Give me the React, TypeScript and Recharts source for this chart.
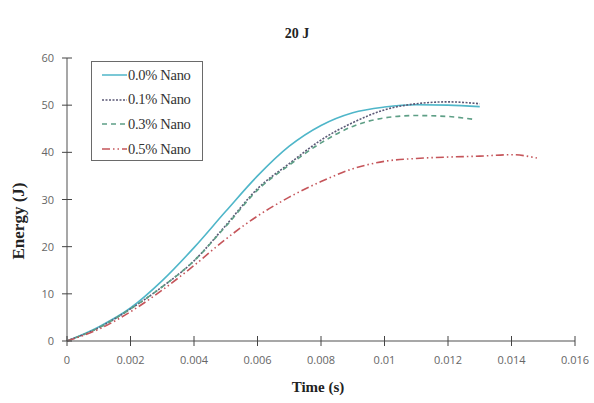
import React from "react";
import { Line, LineChart, XAxis, YAxis } from "recharts";

// energy (J), one array per series
const time00 = [0, 0.001, 0.002, 0.003, 0.004, 0.005, 0.006, 0.007, 0.008, 0.009, 0.01, 0.011, 0.012, 0.013];
const nano00 = [0, 3.0, 7.0, 12.8, 19.8, 27.5, 35.0, 41.3, 45.7, 48.4, 49.6, 50.1, 50.0, 49.7];

const time01 = [0, 0.001, 0.002, 0.003, 0.004, 0.005, 0.006, 0.007, 0.008, 0.009, 0.01, 0.011, 0.012, 0.013];
const nano01 = [0, 2.8, 6.8, 11.5, 17.0, 24.5, 32.3, 37.6, 42.6, 46.3, 49.0, 50.3, 50.7, 50.3];

const time03 = [0, 0.001, 0.002, 0.003, 0.004, 0.005, 0.006, 0.007, 0.008, 0.009, 0.01, 0.011, 0.012, 0.0128];
const nano03 = [0, 2.8, 6.8, 11.5, 17.0, 24.3, 32.0, 37.3, 42.0, 45.5, 47.3, 47.8, 47.6, 47.0];

const time05 = [0, 0.001, 0.002, 0.003, 0.004, 0.005, 0.006, 0.007, 0.008, 0.009, 0.01, 0.011, 0.012, 0.013, 0.014, 0.0148];
const nano05 = [0, 2.5, 6.2, 10.8, 16.0, 21.6, 26.5, 30.5, 33.8, 36.5, 38.1, 38.7, 39.0, 39.2, 39.5, 38.8];

const xTicks = [0, 0.002, 0.004, 0.006, 0.008, 0.01, 0.012, 0.014, 0.016];
const xTickLabels = ["0", "0.002", "0.004", "0.006", "0.008", "0.01", "0.012", "0.014", "0.016"];
const yTicks = [0, 10, 20, 30, 40, 50, 60];

const toRows = (t: number[], e: number[]) => t.map((x, i) => ({ t: x, e: e[i] }));

const series = [
  { name: "0.0% Nano", data: toRows(time00, nano00), color: "#4fb6c9", dash: undefined },
  { name: "0.1% Nano", data: toRows(time01, nano01), color: "#5b5876", dash: "2 1.5" },
  { name: "0.3% Nano", data: toRows(time03, nano03), color: "#5e9f86", dash: "5 4" },
  { name: "0.5% Nano", data: toRows(time05, nano05), color: "#c5555a", dash: "8 3 1.5 3 1.5 3" },
];

const TICK_SIZE = 5;
const TICK_MARGIN = 10;
const axisGray = "#8a8a8a";
const tickFont = "'Open Sans', sans-serif";
const serif = "'Liberation Serif', 'Times New Roman', serif";

const XTick = (props: any) => {
  const { x, y, index } = props;
  const axisY = y - TICK_SIZE - TICK_MARGIN;
  return (
    <g>
      <line x1={x} x2={x} y1={axisY - 5} y2={axisY + 5} stroke="#444" strokeWidth={1} />
      <text x={x} y={axisY + 23} textAnchor="middle" fontSize={11} fill="#666" fontFamily={tickFont}>
        {xTickLabels[index]}
      </text>
    </g>
  );
};

const YTick = (props: any) => {
  const { x, y, payload } = props;
  const axisX = x + TICK_SIZE + TICK_MARGIN;
  return (
    <g>
      <line x1={axisX - 5} x2={axisX + 5} y1={y} y2={y} stroke="#444" strokeWidth={1} />
      <text x={axisX - 13} y={y + 4} textAnchor="end" fontSize={11} fill="#666" fontFamily={tickFont}>
        {payload.value}
      </text>
    </g>
  );
};

const LegendBox = () => (
  <div
    style={{
      position: "absolute",
      left: 91,
      top: 61,
      width: 112,
      height: 100,
      border: "1.5px solid #6a6a6a",
      background: "#fff",
      boxSizing: "border-box",
      paddingTop: 1,
    }}
  >
    {series.map((s) => (
      <div key={s.name} style={{ display: "flex", alignItems: "center", height: 24.6 }}>
        <svg width={27} height={10} style={{ marginLeft: 9 }}>
          <line x1={1} x2={26} y1={5} y2={5} stroke={s.color} strokeWidth={1.5} strokeDasharray={s.dash} />
        </svg>
        <span style={{ fontFamily: serif, fontSize: 14.5, color: "#333", marginLeft: 0, whiteSpace: "nowrap", letterSpacing: -0.3 }}>
          {s.name}
        </span>
      </div>
    ))}
  </div>
);

export default function App() {
  return (
    <div style={{ position: "absolute", left: 0, top: 0, width: 594, height: 403, background: "#fff" }}>
      <LineChart width={594} height={403} margin={{ top: 58, right: 19, bottom: 0, left: 0 }}>
        <XAxis
          type="number"
          dataKey="t"
          domain={[0, 0.016]}
          ticks={xTicks}
          allowDuplicatedCategory={false}
          height={62}
          tickSize={TICK_SIZE}
          tickMargin={TICK_MARGIN}
          tickLine={false}
          axisLine={{ stroke: axisGray, strokeWidth: 1.5 }}
          tick={<XTick />}
          interval={0}
        />
        <YAxis
          type="number"
          dataKey="e"
          domain={[0, 60]}
          ticks={yTicks}
          width={67}
          tickSize={TICK_SIZE}
          tickMargin={TICK_MARGIN}
          tickLine={false}
          axisLine={{ stroke: axisGray, strokeWidth: 1.5 }}
          tick={<YTick />}
          interval={0}
        />
        {series.map((s) => (
          <Line
            key={s.name}
            name={s.name}
            data={s.data}
            dataKey="e"
            type="monotone"
            stroke={s.color}
            strokeWidth={1.6}
            strokeDasharray={s.dash}
            dot={false}
            activeDot={false}
            isAnimationActive={false}
          />
        ))}
        <text x={297} y={38} textAnchor="middle" fontSize={14} fontWeight="bold" fontFamily={serif} fill="#222">
          20 J
        </text>
        <text
          x={24}
          y={221}
          textAnchor="middle"
          fontSize={17}
          fontWeight="bold"
          fontFamily={serif}
          fill="#222"
          transform="rotate(-90 24 221)"
        >
          Energy (J)
        </text>
        <text x={318} y={392} textAnchor="middle" fontSize={15} fontWeight="bold" fontFamily={serif} fill="#222">
          Time (s)
        </text>
      </LineChart>
      <LegendBox />
    </div>
  );
}
